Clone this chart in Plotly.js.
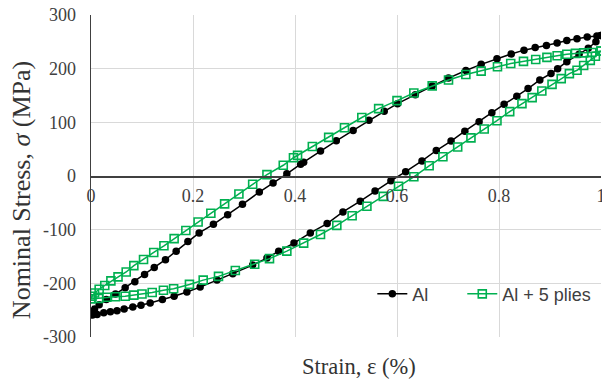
<!DOCTYPE html>
<html>
<head>
<meta charset="utf-8">
<script src="https://cdn.plot.ly/plotly-3.0.1.min.js"></script>
<style>html,body{margin:0;padding:0;background:#fff;}#chart{width:602px;height:380px;}</style>
</head>
<body>
<div id="chart"></div>
<script>
// Al loop (upper branch descending, then lower branch ascending)
const alStrain = [1.0,0.992,0.973,0.953,0.933,0.914,0.893,0.871,0.849,0.824,0.796,0.765,0.735,0.701,0.669,0.636,0.601,0.575,0.545,0.514,0.481,0.45,0.417,0.411,0.384,0.357,0.330,0.297,0.268,0.240,0.212,0.19,0.167,0.146,0.124,0.105,0.086,0.067,0.048,0.030,0.016,0.007,0.002,0.0,
  0.003,0.012,0.025,0.038,0.051,0.065,0.082,0.098,0.116,0.14,0.163,0.188,0.214,0.247,0.278,0.317,0.345,0.368,0.398,0.43,0.463,0.494,0.528,0.557,0.588,0.617,0.649,0.677,0.706,0.733,0.761,0.786,0.810,0.835,0.857,0.880,0.902,0.915,0.933,0.957,0.975,0.99,1.0];
const alStress = [262,260.7,258.8,255.9,252.5,247.7,243,239.5,234.5,227.5,218.5,208,196.5,182.5,167.5,151.6,134.8,120.5,103.7,85,65.5,46.6,25.5,22,4,-13,-30,-52.7,-72,-90,-106,-122,-140,-156,-170.6,-183.6,-197,-208,-220,-230,-240,-248,-255,-258,
  -259,-258,-255,-253,-251,-248,-244,-241,-236.5,-230,-224,-216,-207,-194,-182,-166,-153,-140,-125,-106,-88.6,-67,-47,-28,-9,8,28,47.5,65,83.5,101,118,133.5,148.4,163,179,191,200,213,227,238,250,262];

// Al + 5 plies loop
const pliesStrain = [1.0,0.982,0.966,0.95,0.933,0.914,0.894,0.872,0.848,0.823,0.797,0.765,0.735,0.701,0.669,0.633,0.6,0.564,0.531,0.497,0.466,0.434,0.405,0.397,0.377,0.345,0.317,0.29,0.262,0.235,0.21,0.186,0.163,0.143,0.123,0.103,0.084,0.069,0.053,0.039,0.027,0.016,0.007,0.002,0.0,
  0.015,0.031,0.048,0.067,0.084,0.10,0.12,0.142,0.162,0.193,0.22,0.25,0.283,0.321,0.35,0.384,0.417,0.45,0.482,0.512,0.541,0.573,0.603,0.633,0.663,0.69,0.719,0.745,0.771,0.796,0.821,0.845,0.865,0.884,0.904,0.922,0.938,0.953,0.966,0.979,0.989,1.0];
const pliesStress = [233,230,229.5,228.5,227,224,221,217,213.6,209.5,203.5,195.5,189,179,168,154.6,140.5,125.5,109,90,72,55,38.5,34,20,2.5,-15.5,-33.5,-52,-69.5,-85.7,-101.5,-116.6,-130,-142.5,-155.7,-167,-178.8,-188,-195.5,-204,-211,-218,-224,-229,
  -228,-226,-225,-224,-222,-220,-217,-213,-210,-202,-194,-187,-176,-164.5,-154,-140,-125,-109,-92,-74,-56.5,-38,-19,-1.5,19,36,54,71,87.5,103,120,134.8,146,158.3,170.8,181.4,190.7,197,206,215.5,223,233];

const xTicks = [0, 0.2, 0.4, 0.6, 0.8, 1];
const xTickText = ['0', '0.2', '0.4', '0.6', '0.8', '1'];
const yTicks = [-300, -200, -100, 0, 100, 200, 300];
const yTickText = ['-300', '-200', '-100', '0', '100', '200', '300'];
const xTitle = 'Strain, ε (%)';
const yTitle = 'Nominal Stress, <i>σ</i> (MPa)';

const serif = 'Liberation Serif';
const sans = 'Liberation Sans';
const green = '#00B050';

const traces = [
  {
    x: alStrain, y: alStress, name: 'Al', type: 'scatter', mode: 'lines+markers',
    xaxis: 'x', yaxis: 'y', legend: 'legend',
    line: {color: '#000000', width: 1.5},
    marker: {symbol: 'circle', size: 7.5, color: '#000000'}
  },
  {
    x: pliesStrain, y: pliesStress, name: 'Al + 5 plies', type: 'scatter', mode: 'lines+markers',
    xaxis: 'x2', yaxis: 'y', legend: 'legend2',
    line: {color: green, width: 1.5},
    marker: {symbol: 'square-open', size: 8, color: green, line: {color: green, width: 1.6}}
  }
];

const legendFont = {family: sans, size: 18, color: '#404040'};

const layout = {
  width: 602, height: 380,
  font: {family: serif, size: 18, color: '#404040'},
  margin: {l: 91, r: 1, t: 15, b: 43},
  paper_bgcolor: '#ffffff', plot_bgcolor: '#ffffff',
  showlegend: true,
  legend: {
    orientation: 'h', x: 0.5516, y: 0.133, xanchor: 'left', yanchor: 'middle',
    bgcolor: 'rgba(0,0,0,0)', font: legendFont, itemwidth: 30
  },
  legend2: {
    orientation: 'h', x: 0.728, y: 0.133, xanchor: 'left', yanchor: 'middle',
    bgcolor: 'rgba(0,0,0,0)', font: legendFont, itemwidth: 30
  },
  xaxis: {
    range: [0, 1], tickvals: xTicks, showticklabels: false, showgrid: true, gridcolor: '#d9d9d9', gridwidth: 1,
    zeroline: false, showline: false, ticks: ''
  },
  xaxis2: {
    range: [0, 1], overlaying: 'x', anchor: 'free', position: 0.5, side: 'bottom',
    tickvals: xTicks, ticktext: xTickText, showgrid: false, zeroline: false,
    showline: true, linecolor: '#404040', linewidth: 1.5, ticks: '',
    ticklabelstandoff: 3, ticklabeloverflow: 'allow',
    tickfont: {family: serif, size: 18, color: '#404040'}
  },
  yaxis: {
    range: [-300, 300], tickvals: yTicks, ticktext: yTickText, showgrid: true, gridcolor: '#d9d9d9', gridwidth: 1,
    zeroline: false, showline: true, linecolor: '#404040', linewidth: 1.5, ticks: '',
    ticklabelstandoff: 10,
    tickfont: {family: serif, size: 18, color: '#404040'}
  },
  annotations: [
    {text: xTitle, xref: 'paper', yref: 'paper', x: 0.5255, y: -0.093, xanchor: 'center', yanchor: 'middle',
     showarrow: false, font: {family: serif, size: 22.5, color: '#333333'}},
    {text: yTitle, xref: 'paper', yref: 'paper', x: -0.137, y: 0.4565, xanchor: 'center', yanchor: 'middle',
     textangle: -90, showarrow: false, font: {family: serif, size: 26, color: '#333333'}}
  ]
};

Plotly.newPlot('chart', traces, layout, {staticPlot: true, displayModeBar: false});
</script>
</body>
</html>
